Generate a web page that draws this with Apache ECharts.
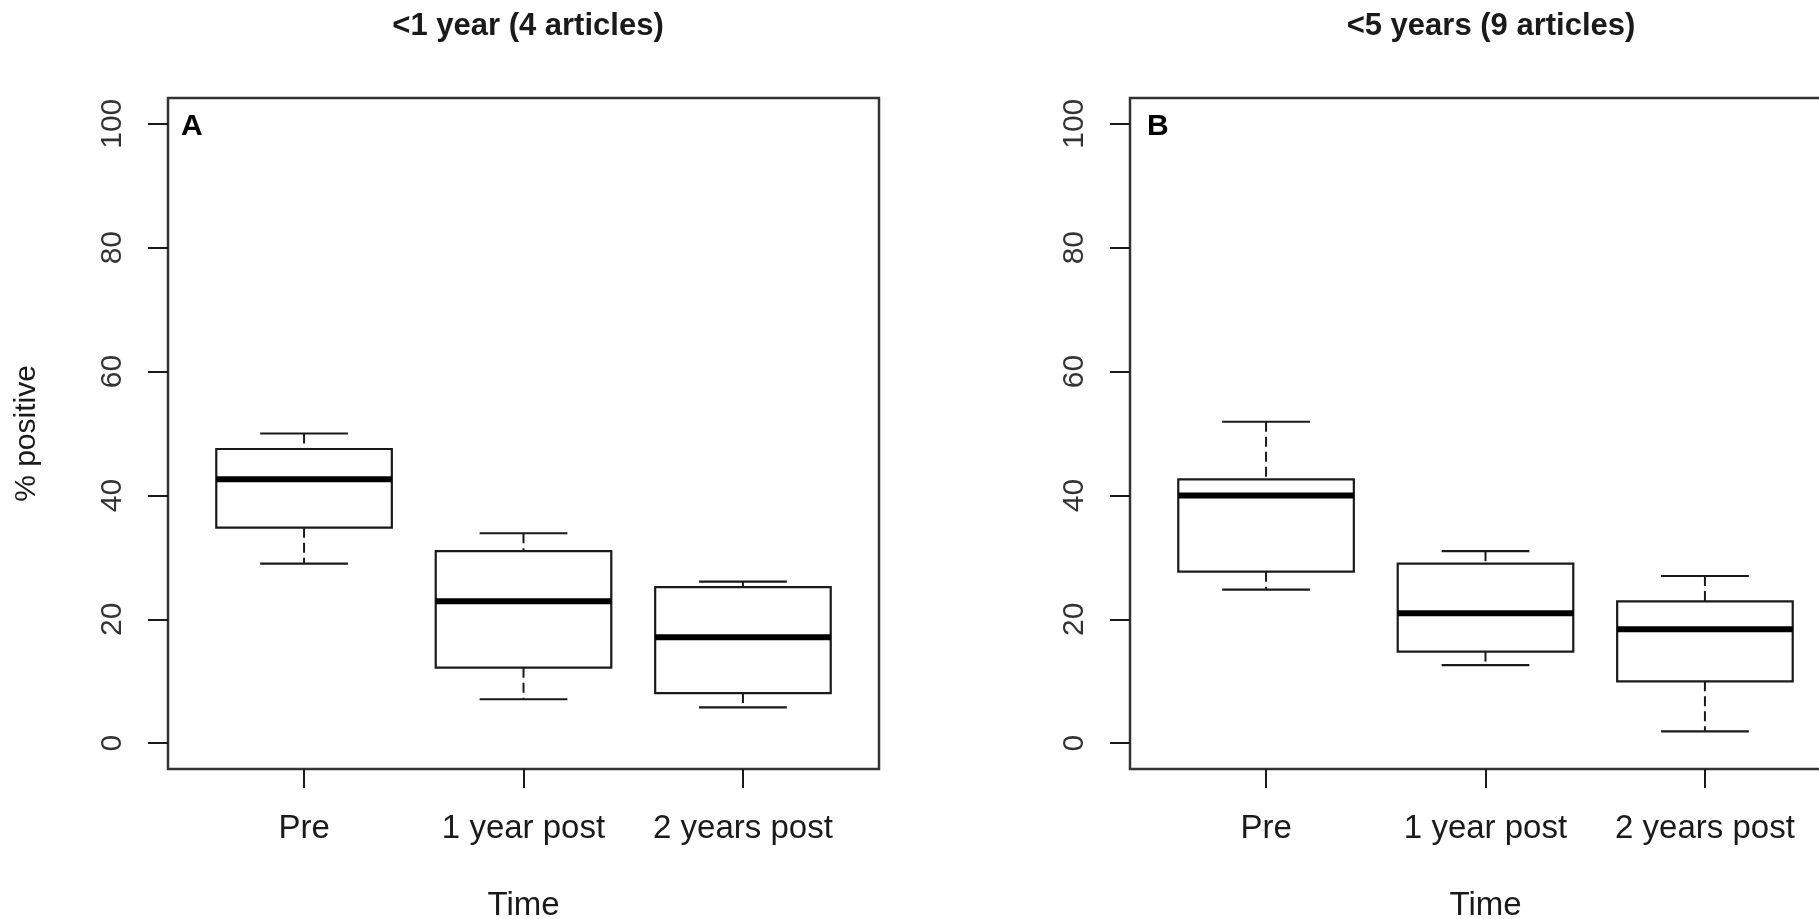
<!DOCTYPE html>
<html>
<head>
<meta charset="utf-8">
<script src="https://cdn.jsdelivr.net/npm/echarts@6/dist/echarts.min.js"></script>
<style>
  html, body { margin: 0; padding: 0; background: #fff; }
  #main { width: 1819px; height: 919px; }
</style>
</head>
<body>
<div id="main"></div>
<script>
var categories = ['Pre', '1 year post', '2 years post'];
var yTicks = [0, 20, 40, 60, 80, 100];

// panel A: <1 year (4 articles)
var lowA = [29.0, 7.1, 5.8];
var q1A = [34.8, 12.2, 8.1];
var medA = [42.6, 22.9, 17.1];
var q3A = [47.5, 31.0, 25.2];
var highA = [50.0, 33.9, 26.1];

// panel B: <5 years (9 articles)
var lowB = [24.8, 12.6, 1.9];
var q1B = [27.7, 14.8, 10.0];
var medB = [40.0, 21.0, 18.4];
var q3B = [42.6, 29.0, 22.9];
var highB = [51.9, 31.0, 27.0];

var FONT = 'Liberation Sans, Arial, sans-serif';
var INK = '#1a1a1a';

function rows(lo, q1, md, q3, hi) {
    return categories.map(function (c, i) {
        return [i + 1, lo[i], q1[i], md[i], q3[i], hi[i]];
    });
}

function renderBox(params, api) {
    var x = api.value(0);
    var pLo = api.coord([x, api.value(1)]);
    var pQ1 = api.coord([x, api.value(2)]);
    var pMd = api.coord([x, api.value(3)]);
    var pQ3 = api.coord([x, api.value(4)]);
    var pHi = api.coord([x, api.value(5)]);
    var half = api.size([0.8, 0])[0] / 2;
    var cap = api.size([0.4, 0])[0] / 2;
    var cx = pMd[0];
    var thin = { stroke: INK, lineWidth: 2.2 };
    var dash = { stroke: INK, lineWidth: 2, lineDash: [10, 5] };
    return {
        type: 'group',
        children: [
            { type: 'line', shape: { x1: cx, y1: pHi[1], x2: cx, y2: pQ3[1] }, style: dash },
            { type: 'line', shape: { x1: cx, y1: pQ1[1], x2: cx, y2: pLo[1] }, style: dash },
            { type: 'line', shape: { x1: cx - cap, y1: pHi[1], x2: cx + cap, y2: pHi[1] }, style: thin },
            { type: 'line', shape: { x1: cx - cap, y1: pLo[1], x2: cx + cap, y2: pLo[1] }, style: thin },
            { type: 'rect', shape: { x: cx - half, y: pQ3[1], width: half * 2, height: pQ1[1] - pQ3[1] },
              style: { fill: '#fff', stroke: INK, lineWidth: 2.2 } },
            { type: 'line', shape: { x1: cx - half, y1: pMd[1], x2: cx + half, y2: pMd[1] },
              style: { stroke: '#000', lineWidth: 6 } }
        ]
    };
}

function xAxisFor(idx) {
    return {
        type: 'value', gridIndex: idx, min: 0.38, max: 3.62,
        splitLine: { show: false },
        axisLine: { show: false, onZero: false },
        axisTick: { show: true, customValues: [1, 2, 3], length: 19, inside: false,
                    lineStyle: { color: INK, width: 2 } },
        axisLabel: { customValues: [1, 2, 3], margin: 43, fontSize: 33, fontFamily: FONT, color: INK,
                     formatter: function (v) { return categories[Math.round(v) - 1] || ''; } },
        name: 'Time', nameLocation: 'middle', nameGap: 120,
        nameTextStyle: { fontSize: 33, fontFamily: FONT, color: INK }
    };
}

function yAxisFor(idx, withName) {
    return {
        type: 'value', gridIndex: idx, min: -4.16, max: 104.16,
        splitLine: { show: false },
        axisLine: { show: false, onZero: false },
        axisTick: { show: true, customValues: yTicks, length: 20,
                    lineStyle: { color: INK, width: 2 } },
        axisLabel: { customValues: yTicks, rotate: 90, margin: 40, fontSize: 30, fontFamily: FONT, color: '#333' },
        name: withName ? '% positive' : '', nameLocation: 'middle', nameGap: 126, nameRotate: 90,
        nameTextStyle: { fontSize: 30, fontFamily: FONT, color: INK }
    };
}

var chart = echarts.init(document.getElementById('main'));
var option = {
    backgroundColor: '#fff',
    animation: false,
    title: [
        { text: '<1 year (4 articles)', left: 523, top: 6, textAlign: 'center',
          textStyle: { fontSize: 31, fontWeight: 'bold', fontFamily: FONT, color: INK } },
        { text: '<5 years (9 articles)', left: 1486, top: 6, textAlign: 'center',
          textStyle: { fontSize: 31, fontWeight: 'bold', fontFamily: FONT, color: INK } },
        { text: 'A', left: 176, top: 107, textStyle: { fontSize: 30, fontWeight: 'bold', fontFamily: FONT, color: '#000' } },
        { text: 'B', left: 1142, top: 107, textStyle: { fontSize: 30, fontWeight: 'bold', fontFamily: FONT, color: '#000' } }
    ],
    grid: [
        { left: 168, top: 98, width: 711, height: 671, outerBoundsMode: 'none', containLabel: false,
          show: true, borderColor: '#333', borderWidth: 2.5, backgroundColor: '#fff' },
        { left: 1130, top: 98, width: 711, height: 671, outerBoundsMode: 'none', containLabel: false,
          show: true, borderColor: '#333', borderWidth: 2.5, backgroundColor: '#fff' }
    ],
    xAxis: [xAxisFor(0), xAxisFor(1)],
    yAxis: [yAxisFor(0, true), yAxisFor(1, false)],
    series: [
        { type: 'custom', xAxisIndex: 0, yAxisIndex: 0, renderItem: renderBox,
          encode: { x: 0, y: [1, 2, 3, 4, 5] }, data: rows(lowA, q1A, medA, q3A, highA) },
        { type: 'custom', xAxisIndex: 1, yAxisIndex: 1, renderItem: renderBox,
          encode: { x: 0, y: [1, 2, 3, 4, 5] }, data: rows(lowB, q1B, medB, q3B, highB) }
    ]
};
chart.setOption(option);
</script>
</body>
</html>
